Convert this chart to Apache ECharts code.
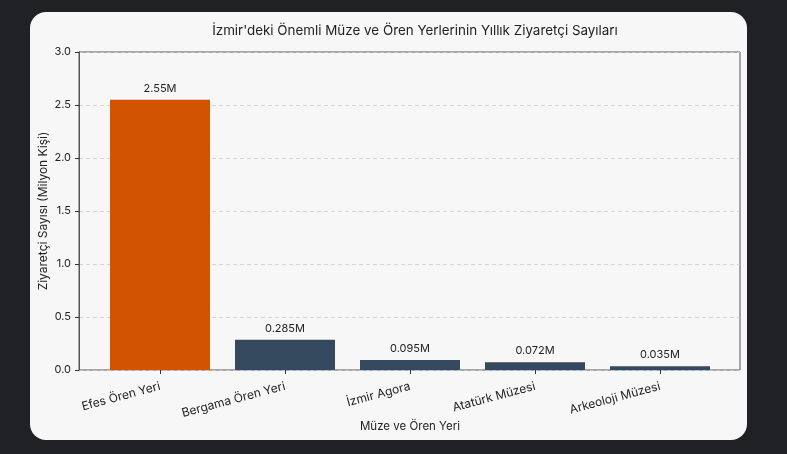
<!DOCTYPE html>
<html><head><meta charset="utf-8">
<script src="https://cdn.jsdelivr.net/npm/echarts@6/dist/echarts.min.js"></script>
<style>html,body{margin:0;padding:0;background:#202124;}#c{width:787px;height:454px;}</style>
</head><body><div id="c"></div>
<script>
const categories = ["Efes Ören Yeri", "Bergama Ören Yeri", "İzmir Agora", "Atatürk Müzesi", "Arkeoloji Müzesi"];
const visitors = [2.55, 0.285, 0.095, 0.072, 0.035];
const barColors = ["#d35400", "#34495e", "#34495e", "#34495e", "#34495e"];
const yTicks = [0, 0.5, 1.0, 1.5, 2.0, 2.5, 3.0];

const FONT = "Inter, Roboto, sans-serif";
const chart = echarts.init(document.getElementById('c'));
chart.setOption({
  backgroundColor: '#202124',
  animation: false,
  textStyle: {fontFamily: FONT},
  graphic: [{type: 'rect', z: -10, shape: {x: 30, y: 12, width: 717, height: 428, r: 16}, style: {fill: '#f7f7f7'}}],
  title: {text: "İzmir'deki Önemli Müze ve Ören Yerlerinin Yıllık Ziyaretçi Sayıları", left: 410, top: 19, textAlign: 'center',
    textStyle: {fontSize: 13.4, fontWeight: 'normal', color: '#222', fontFamily: FONT}},
  grid: [
    {left: 79, right: 47, top: 52, bottom: 84, show: true, borderColor: '#555', borderWidth: 1, backgroundColor: 'transparent'},
    {left: 97.5, right: 64.5, top: 52, bottom: 84}
  ],
  xAxis: [
    {gridIndex: 0, type: 'value', min: 0, max: 1, show: false},
    {gridIndex: 1, type: 'category', data: categories,
     name: 'Müze ve Ören Yeri', nameLocation: 'middle', nameGap: 51, nameMoveOverlap: false,
     nameTextStyle: {fontSize: 11.5, color: '#222'},
     axisLine: {show: false},
     axisTick: {show: true, alignWithLabel: true, length: 4, lineStyle: {color: '#333'}},
     axisLabel: {rotate: 15, fontSize: 12, color: '#222', margin: 16, interval: 0}}
  ],
  yAxis: [
    {gridIndex: 0, type: 'value', min: 0, max: 3, interval: 0.5,
     name: 'Ziyaretçi Sayısı (Milyon Kişi)', nameLocation: 'middle', nameGap: 30, nameMoveOverlap: false,
     nameTextStyle: {fontSize: 12, color: '#222'},
     axisLine: {show: true, lineStyle: {color: '#555'}},
     axisTick: {show: true, length: 4, lineStyle: {color: '#333'}},
     axisLabel: {fontSize: 11, color: '#222', formatter: v => v.toFixed(1)},
     splitLine: {show: true, lineStyle: {color: '#cccccc', type: [4, 3], width: 0.8}}},
    {gridIndex: 1, type: 'value', min: 0, max: 3, show: false, splitLine: {show: false}}
  ],
  series: [{
    type: 'bar', xAxisIndex: 1, yAxisIndex: 1,
    data: visitors.map((v, i) => ({value: v, itemStyle: {color: barColors[i]}})),
    barWidth: 100,
    label: {show: true, position: 'top', distance: 6, fontSize: 11, color: '#222', formatter: p => p.value + 'M'}
  }]
});
</script></body></html>
